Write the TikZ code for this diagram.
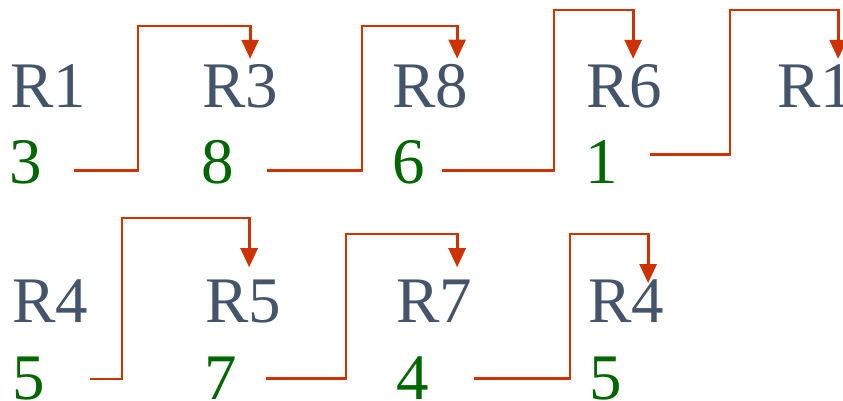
\documentclass[tikz,border=0pt]{standalone}
\usepackage{fontspec}
\setmainfont{Liberation Serif}
\usepackage{xcolor}
\usetikzlibrary{arrows.meta}

\definecolor{regcol}{RGB}{68,84,106}
\definecolor{valcol}{RGB}{0,102,0}
\definecolor{linkcol}{RGB}{204,51,0}

\begin{document}
\begin{tikzpicture}[
  x=1pt, y=-1pt,
  reg/.style={anchor=base west, inner sep=0pt, text=regcol, font=\fontsize{65}{70}\selectfont},
  val/.style={anchor=base west, inner sep=0pt, text=valcol, font=\fontsize{65}{70}\selectfont},
  link/.style={draw=linkcol, line width=2.8pt, -{Triangle[width=17pt,length=19pt]}}
]
\useasboundingbox (0,0) rectangle (843,400);

% First row: registers and values
\node[reg] (ra) at (10,107) {R1};
\node[reg] (rb) at (202,107) {R3};
\node[reg] (rc) at (392,107) {R8};
\node[reg] (rd) at (586,107) {R6};
\node[reg] (re) at (777,107) {R1};
\node[val] (va) at (9,183) {3};
\node[val] (vb) at (201,183) {8};
\node[val] (vc) at (392,183) {6};
\node[val] (vd) at (585,183) {1};

% Second row
\node[reg] (rf) at (12,322) {R4};
\node[reg] (rg) at (205,322) {R5};
\node[reg] (rh) at (396,322) {R7};
\node[reg] (ri) at (588,322) {R4};
\node[val] (vf) at (12,399) {5};
\node[val] (vg) at (204,399) {7};
\node[val] (vh) at (396,399) {4};
\node[val] (vi) at (589,399) {5};

% Pointers (value -> next register)
\draw[link] ([xshift=32,yshift=-9]va.east) -| (138,26) -| ([xshift=10,yshift=5]rb.north);
\draw[link] ([xshift=33,yshift=-9]vb.east) -| (362,26) -| ([xshift=27,yshift=5]rc.north);
\draw[link] ([xshift=17,yshift=-9]vc.east) -| (554,10) -| ([xshift=9,yshift=5]rd.north);
\draw[link] ([xshift=32,yshift=7]vd.east) -| (730,10) -| ([xshift=23,yshift=5]re.north);
\draw[link] ([xshift=45,yshift=-1]vf.east) -| (122,218) -| ([xshift=6,yshift=12]rg.north);
\draw[link] ([xshift=29,yshift=-1]vg.east) -| (346,234) -| ([xshift=23,yshift=12]rh.north);
\draw[link] ([xshift=45,yshift=-1]vh.east) -| (570,234) -| ([xshift=22,yshift=-4]ri.north);

\end{tikzpicture}
\end{document}
